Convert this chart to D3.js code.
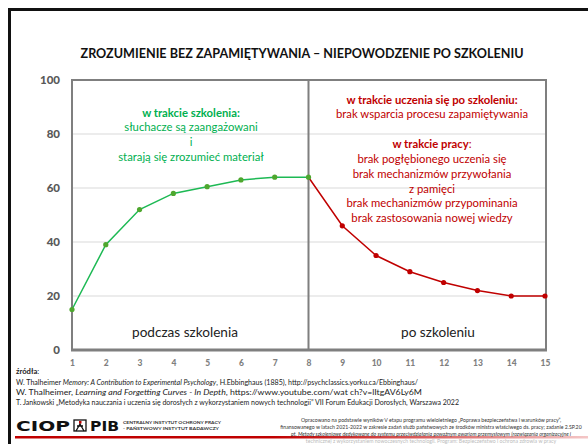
<!DOCTYPE html>
<html>
<head>
<meta charset="utf-8">
<script src="https://cdn.jsdelivr.net/npm/d3@7"></script>
<style>
  body { margin: 0; background: #fff; }
  svg { display: block; font-family: Lato, "Open Sans", sans-serif; }
</style>
</head>
<body>
<script>
// data
const steps = [1, 2, 3, 4, 5, 6, 7, 8, 9, 10, 11, 12, 13, 14, 15];
const duringX = [1, 2, 3, 4, 5, 6, 7, 8];
const duringVals = [15, 39, 52, 58, 60.5, 63, 64, 64];
const afterX = [8, 9, 10, 11, 12, 13, 14, 15];
const afterVals = [64, 46, 35, 29, 25, 22, 20, 20];
const yTicks = [0, 20, 40, 60, 80, 100];

const titleText = "ZROZUMIENIE BEZ ZAPAMIĘTYWANIA – NIEPOWODZENIE PO SZKOLENIU";
const greenNotes = ["słuchacze są zaangażowani", "i", "starają się zrozumieć materiał"];
const redNotesA = ["brak wsparcia procesu zapamiętywania"];
const redNotesB = ["brak pogłębionego uczenia się", "brak mechanizmów przywołania", "z pamięci",
  "brak mechanizmów przypominania", "brak zastosowania nowej wiedzy"];

const W = 588, H = 444;
const green = "#00b050", darkGreen = "#4ea72e", red = "#c00000";

const svg = d3.select("body").append("svg")
  .attr("width", W)
  .attr("height", H);

// slide frame
svg.append("rect")
  .attr("x", 9.5).attr("y", 9.5)
  .attr("width", W + 20).attr("height", H + 20)
  .attr("fill", "none")
  .attr("stroke", "#111")
  .attr("stroke-width", 3);

// title
svg.append("text")
  .attr("x", 302).attr("y", 58)
  .attr("text-anchor", "middle")
  .attr("font-weight", "bold")
  .attr("font-size", 12.6)
  .attr("fill", "#111")
  .text(titleText);

// scales
const x = d3.scaleLinear().domain([1, 15]).range([72, 545]);
const y = d3.scaleLinear().domain([0, 100]).range([350, 80]);

// gridlines
svg.append("g")
  .selectAll("line")
  .data(yTicks.filter(d => d > 0 && d < 100))
  .enter().append("line")
  .attr("x1", x(1)).attr("x2", 546)
  .attr("y1", d => y(d)).attr("y2", d => y(d))
  .attr("stroke", "#d9d9d9")
  .attr("stroke-width", 1);

// y axis labels
const yAxis = svg.append("g")
  .attr("transform", `translate(${x(1) - 6},0)`)
  .call(d3.axisLeft(y).tickValues(yTicks).tickSize(0).tickPadding(6));
yAxis.select(".domain").remove();
yAxis.selectAll("text")
  .attr("font-family", "Lato, sans-serif")
  .attr("font-size", 11.5)
  .attr("font-weight", "900")
  .attr("fill", "#595959");

// x axis labels
const xAxis = svg.append("g")
  .attr("transform", `translate(0,${y(0) + 6})`)
  .call(d3.axisBottom(x).tickValues(steps).tickFormat(d3.format("d")).tickSize(0).tickPadding(4));
xAxis.select(".domain").remove();
xAxis.selectAll("text")
  .attr("font-family", "Lato, sans-serif")
  .attr("font-size", 8.5)
  .attr("font-weight", "900")
  .attr("fill", "#7f7f7f");

// plot box
const box = svg.append("g").attr("fill", "none").attr("stroke", "#7f7f7f");
box.append("path")
  .attr("d", `M${x(1)},${y(0)}V${y(100)}H546V${y(0)}`)
  .attr("stroke-width", 2);
box.append("line")
  .attr("x1", x(8)).attr("x2", x(8))
  .attr("y1", y(100)).attr("y2", y(0))
  .attr("stroke-width", 2);
box.append("line")
  .attr("x1", x(1) - 1).attr("x2", 547)
  .attr("y1", y(0)).attr("y2", y(0))
  .attr("stroke-width", 3);

// series
const line = d3.line().x(d => x(d[0])).y(d => y(d[1]));
const during = duringX.map((d, i) => [d, duringVals[i]]);
const after = afterX.map((d, i) => [d, afterVals[i]]);

svg.append("path").datum(after)
  .attr("d", line).attr("fill", "none")
  .attr("stroke", red).attr("stroke-width", 1.5);
svg.append("g").selectAll("circle").data(after.slice(1))
  .enter().append("circle")
  .attr("cx", d => x(d[0])).attr("cy", d => y(d[1]))
  .attr("r", 2.6).attr("fill", red);

svg.append("path").datum(during)
  .attr("d", line).attr("fill", "none")
  .attr("stroke", "#1db954").attr("stroke-width", 1.5);
svg.append("g").selectAll("circle").data(during)
  .enter().append("circle")
  .attr("cx", d => x(d[0])).attr("cy", d => y(d[1]))
  .attr("r", 2.6).attr("fill", darkGreen);

// notes - left half
const gx = 191;
const noteSize = 11.3;
svg.append("text")
  .attr("x", gx).attr("y", 117)
  .attr("text-anchor", "middle")
  .attr("font-size", noteSize)
  .attr("font-weight", "bold")
  .attr("fill", green)
  .text("w trakcie szkolenia:");
svg.append("g").selectAll("text").data(greenNotes)
  .enter().append("text")
  .attr("x", gx).attr("y", (d, i) => 131 + i * 15)
  .attr("text-anchor", "middle")
  .attr("font-size", noteSize)
  .attr("fill", green)
  .text(d => d);

// notes - right half
const rx = 432;
svg.append("text")
  .attr("x", rx).attr("y", 104)
  .attr("text-anchor", "middle")
  .attr("font-size", noteSize)
  .attr("font-weight", "bold")
  .attr("fill", red)
  .text("w trakcie uczenia się po szkoleniu:");
svg.append("g").selectAll("text").data(redNotesA)
  .enter().append("text")
  .attr("x", rx).attr("y", 118)
  .attr("text-anchor", "middle")
  .attr("font-size", noteSize)
  .attr("fill", red)
  .text(d => d);
const wp = svg.append("text")
  .attr("x", rx).attr("y", 148)
  .attr("text-anchor", "middle")
  .attr("font-size", noteSize)
  .attr("fill", red);
wp.append("tspan").attr("font-weight", "bold").text("w trakcie pracy");
wp.append("tspan").text(":");
svg.append("g").selectAll("text").data(redNotesB)
  .enter().append("text")
  .attr("x", rx).attr("y", (d, i) => 163 + i * 14.8)
  .attr("text-anchor", "middle")
  .attr("font-size", noteSize)
  .attr("fill", red)
  .text(d => d);

// phase labels
svg.append("text")
  .attr("x", 185).attr("y", 337)
  .attr("text-anchor", "middle")
  .attr("font-size", 13.6)
  .attr("fill", "#222")
  .text("podczas szkolenia");
svg.append("text")
  .attr("x", 438).attr("y", 337)
  .attr("text-anchor", "middle")
  .attr("font-size", 13.6)
  .attr("fill", "#222")
  .text("po szkoleniu");

// sources
const src = svg.append("g").attr("font-size", 7.6).attr("fill", "#222");
const s0 = src.append("text").attr("x", 16).attr("y", 374);
s0.append("tspan").attr("font-weight", "bold").text("źródła");
s0.append("tspan").text(":");
const s1 = src.append("text").attr("x", 16).attr("y", 385)
  .attr("textLength", 402).attr("lengthAdjust", "spacingAndGlyphs");
s1.append("tspan").text("W. Thalheimer ");
s1.append("tspan").attr("font-style", "italic").text("Memory: A Contribution to Experimental Psychology");
s1.append("tspan").text(", H.Ebbinghaus (1885), http://psychclassics.yorku.ca/Ebbinghaus/");
const s2 = src.append("text").attr("x", 16).attr("y", 395)
  .attr("textLength", 406).attr("lengthAdjust", "spacingAndGlyphs");
s2.append("tspan").text("W. Thalheimer, ");
s2.append("tspan").attr("font-style", "italic").text("Learning and Forgetting Curves - In Depth");
s2.append("tspan").text(", https://www.youtube.com/wat ch?v=lItgAV6Ly6M");
src.append("text").attr("x", 16).attr("y", 405)
  .attr("textLength", 443).attr("lengthAdjust", "spacingAndGlyphs")
  .text("T. Jankowski „Metodyka nauczania i uczenia się dorosłych z wykorzystaniem nowych technologii\u201d VII Forum Edukacji Dorosłych, Warszawa 2022");

// logo
const logo = svg.append("g");
logo.append("text")
  .attr("x", 16).attr("y", 431)
  .attr("font-family", "'DejaVu Sans', sans-serif")
  .attr("font-weight", "bold")
  .attr("font-size", 14)
  .attr("textLength", 54)
  .attr("lengthAdjust", "spacingAndGlyphs")
  .attr("fill", "#111")
  .text("CIOP");
logo.append("rect")
  .attr("x", 74).attr("y", 420).attr("width", 12).attr("height", 11)
  .attr("fill", "none").attr("stroke", "#111").attr("stroke-width", 1.3);
logo.append("path")
  .attr("d", "M76,431 L80,424 L84,431 M80,424 V421 M77,426 H83")
  .attr("fill", "none").attr("stroke", "#111").attr("stroke-width", 1.3);
logo.append("rect")
  .attr("x", 79).attr("y", 421).attr("width", 2.5).attr("height", 2.5)
  .attr("fill", red);
logo.append("text")
  .attr("x", 90).attr("y", 431)
  .attr("font-family", "'DejaVu Sans', sans-serif")
  .attr("font-weight", "bold")
  .attr("font-size", 14)
  .attr("textLength", 29)
  .attr("lengthAdjust", "spacingAndGlyphs")
  .attr("fill", "#111")
  .text("PIB");
logo.append("text")
  .attr("x", 123).attr("y", 424)
  .attr("font-size", 4.5).attr("font-weight", "bold").attr("fill", "#333")
  .attr("textLength", 98).attr("lengthAdjust", "spacingAndGlyphs")
  .text("CENTRALNY INSTYTUT OCHRONY PRACY");
logo.append("text")
  .attr("x", 123).attr("y", 430)
  .attr("font-size", 4.5).attr("font-weight", "bold").attr("fill", "#333")
  .attr("textLength", 96).attr("lengthAdjust", "spacingAndGlyphs")
  .text("- PAŃSTWOWY INSTYTUT BADAWCZY");

// red underline fading to the right
const grad = svg.append("defs").append("linearGradient").attr("id", "fade");
grad.append("stop").attr("offset", "0%").attr("stop-color", red);
grad.append("stop").attr("offset", "45%").attr("stop-color", red);
grad.append("stop").attr("offset", "100%").attr("stop-color", "#f4c7c7");
svg.append("rect")
  .attr("x", 15).attr("y", 436).attr("width", W - 15).attr("height", 2.5)
  .attr("fill", "url(#fade)");

// funding note
const fund = ["Opracowano na podstawie wyników V etapu programu wieloletniego „Poprawa bezpieczeństwa i warunków pracy\u201d,",
  "finansowanego w latach 2021-2022 w zakresie zadań służb państwowych ze środków ministra właściwego ds. pracy; zadanie 2.SP.20",
  "pt. Metody szkoleniowe dedykowane do systemu przeciwdziałania poważnym awariom przemysłowym (rozwiązania organizacyjne i",
  "techniczne) z wykorzystaniem nowoczesnych technologii. Program: Bezpieczeństwo i ochrona zdrowia w pracy"];
svg.append("g").selectAll("text").data(fund)
  .enter().append("text")
  .attr("x", 431).attr("y", (d, i) => 422 + i * 7)
  .attr("text-anchor", "middle")
  .attr("font-size", 5.2)
  .attr("font-style", (d, i) => i === 2 ? "italic" : "normal")
  .attr("fill", (d, i) => i === 3 ? "#bbb" : "#333")
  .text(d => d);
</script>
</body>
</html>
